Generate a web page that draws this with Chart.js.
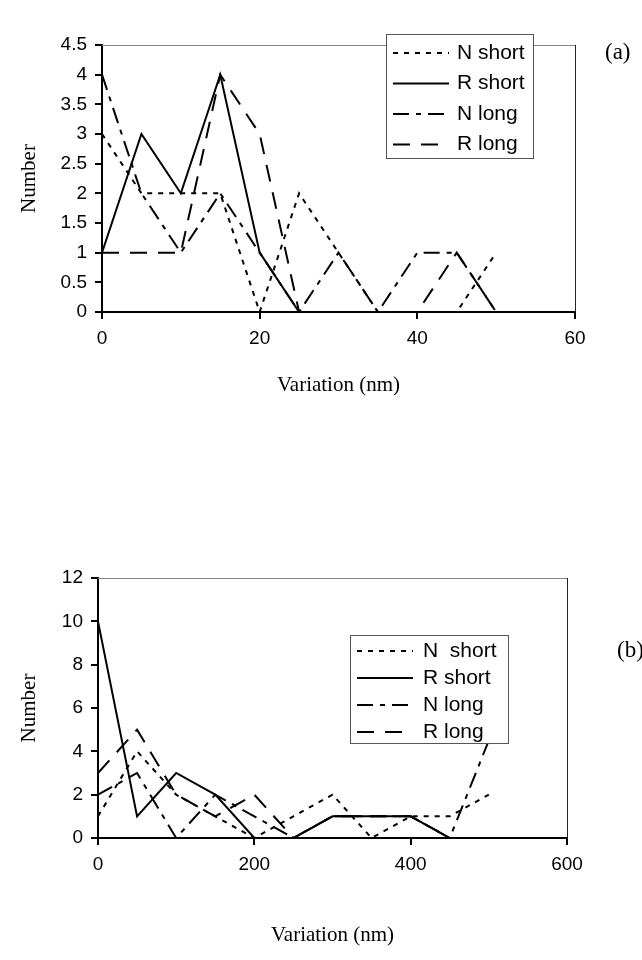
<!DOCTYPE html>
<html>
<head>
<meta charset="utf-8">
<script src="https://cdn.jsdelivr.net/npm/chart.js@4.4.0/dist/chart.umd.min.js"></script>
<style>
  html, body { margin: 0; padding: 0; background: #fff; }
  #wrap { position: relative; width: 642px; height: 960px; overflow: hidden; }
  .panel { position: absolute; left: 0; width: 642px; height: 480px; }
</style>
</head>
<body>
<div id="wrap">
  <div class="panel" style="top:0"><canvas id="chartA"></canvas></div>
  <div class="panel" style="top:480px"><canvas id="chartB"></canvas></div>
</div>
<script>
// panel (a): variation 0-50 nm
const labelsA = ["N short", "R short", "N long", "R long"];
const xA = [0, 5, 10, 15, 20, 25, 30, 35, 40, 45, 50];
const nShortA = [3, 2, 2, 2, 0, 2, 1, 0, 0, 0, 1];
const rShortA = [1, 3, 2, 4, 1, 0, 0, 0, 0, 0, 0];
const nLongA  = [4, 2, 1, 2, 1, 0, 1, 0, 1, 1, 0];
const rLongA  = [1, 1, 1, 4, 3, 0, 0, 0, 0, 1, 0];

// panel (b): variation 0-500 nm
const labelsB = ["N  short", "R short", "N long", "R long"];
const xB = [0, 50, 100, 150, 200, 250, 300, 350, 400, 450, 500];
const nShortB = [1, 4, 2, 1, 0, 1, 2, 0, 1, 1, 2];
const rShortB = [10, 1, 3, 2, 0, 0, 1, 1, 1, 0, 0];
const nLongB  = [2, 3, 0, 2, 1, 0, 1, 1, 1, 0, 4.5];
const rLongB  = [3, 5, 2, 1, 2, 0, 1, 1, 1, 0, 0];

const dashes = [[5, 6], [], [16, 7, 5, 7], [17, 11]];

function pts(xs, ys) {
  return xs.map((x, i) => ({ x: x, y: ys[i] }));
}

function makeSets(names, xs, series) {
  return series.map((ys, i) => ({
    label: names[i],
    data: pts(xs, ys),
    borderColor: '#000',
    borderWidth: 2,
    borderDash: dashes[i],
    pointRadius: 0,
    tension: 0,
    fill: false,
  }));
}

// legend box, plot frame and panel tag
const boxLegend = {
  id: 'boxLegend',
  afterDatasetsDraw(chart, args, o) {
    const ctx = chart.ctx;
    const a = chart.chartArea;
    ctx.save();
    ctx.lineWidth = 1;
    ctx.strokeStyle = '#888';
    ctx.beginPath();
    ctx.moveTo(a.left, a.top + 0.5);
    ctx.lineTo(a.right, a.top + 0.5);
    ctx.stroke();
    ctx.strokeStyle = '#222';
    ctx.beginPath();
    ctx.moveTo(a.right + 0.5, a.top);
    ctx.lineTo(a.right + 0.5, a.bottom);
    ctx.stroke();

    ctx.fillStyle = '#fff';
    ctx.fillRect(o.x, o.y, o.w, o.h);
    ctx.strokeStyle = '#555';
    ctx.strokeRect(o.x + 0.5, o.y + 0.5, o.w, o.h);
    ctx.font = '21px "Liberation Sans", Arial, sans-serif';
    ctx.textBaseline = 'middle';
    ctx.fillStyle = '#000';
    chart.data.datasets.forEach((ds, i) => {
      const y = o.y + o.first + i * o.step;
      ctx.setLineDash(ds.borderDash);
      ctx.lineWidth = ds.borderWidth;
      ctx.strokeStyle = ds.borderColor;
      ctx.beginPath();
      ctx.moveTo(o.x0, y);
      ctx.lineTo(o.x1, y);
      ctx.stroke();
      ctx.setLineDash([]);
      ctx.fillText(ds.label, o.tx, y);
    });

    ctx.font = '23px "Liberation Serif", "Times New Roman", serif';
    ctx.fillText(o.tag, o.tagX, o.tagY);
    ctx.restore();
  }
};

const tickFont = { family: '"Liberation Sans", Arial, sans-serif', size: 19 };
const titleFont = { family: '"Liberation Serif", "Times New Roman", serif', size: 21 };

function makeChart(id, sets, cfg) {
  return new Chart(document.getElementById(id), {
    type: 'line',
    data: { datasets: sets },
    plugins: [boxLegend],
    options: {
      responsive: true,
      maintainAspectRatio: false,
      animation: false,
      events: [],
      layout: { padding: { top: cfg.top, right: cfg.right, left: 0, bottom: 0 } },
      plugins: {
        legend: { display: false },
        tooltip: { enabled: false },
        boxLegend: cfg.legend,
      },
      scales: {
        x: {
          type: 'linear',
          min: 0,
          max: cfg.xMax,
          afterFit: (s) => { s.height = cfg.xHeight; },
          ticks: { stepSize: cfg.xStep, color: '#000', font: tickFont, padding: 8, maxRotation: 0 },
          grid: { drawOnChartArea: false, color: '#000', lineWidth: 2, tickLength: 7 },
          border: { color: '#000', width: 2 },
          title: { display: true, text: 'Variation (nm)', color: '#000', font: titleFont, padding: { top: 0, bottom: cfg.xTitlePad } },
        },
        y: {
          min: 0,
          max: cfg.yMax,
          afterFit: (s) => { s.width = cfg.yWidth; },
          ticks: { stepSize: cfg.yStep, color: '#000', font: tickFont, padding: 8,
                   callback: (v) => String(v) },
          grid: { drawOnChartArea: false, color: '#000', lineWidth: 2, tickLength: 7 },
          border: { color: '#000', width: 2 },
          title: { display: true, text: 'Number', color: '#000', font: titleFont, padding: { top: 17, bottom: 0 } },
        },
      },
    },
  });
}

makeChart('chartA', makeSets(labelsA, xA, [nShortA, rShortA, nLongA, rLongA]), {
  top: 45, right: 67, xHeight: 168, yWidth: 102,
  xMax: 60, xStep: 20, yMax: 4.5, yStep: 0.5, xTitlePad: 82,
  legend: { x: 386, y: 34, w: 147, h: 124, first: 19, step: 30.5, x0: 393, x1: 449, tx: 457,
            tag: '(a)', tagX: 605, tagY: 53 },
});

makeChart('chartB', makeSets(labelsB, xB, [nShortB, rShortB, nLongB, rLongB]), {
  top: 98, right: 75, xHeight: 122, yWidth: 98,
  xMax: 600, xStep: 200, yMax: 12, yStep: 2, xTitlePad: 12,
  legend: { x: 350, y: 635 - 480, w: 158, h: 108, first: 16, step: 27, x0: 357, x1: 413, tx: 423,
            tag: '(b)', tagX: 617, tagY: 651 - 480 },
});
</script>
</body>
</html>
